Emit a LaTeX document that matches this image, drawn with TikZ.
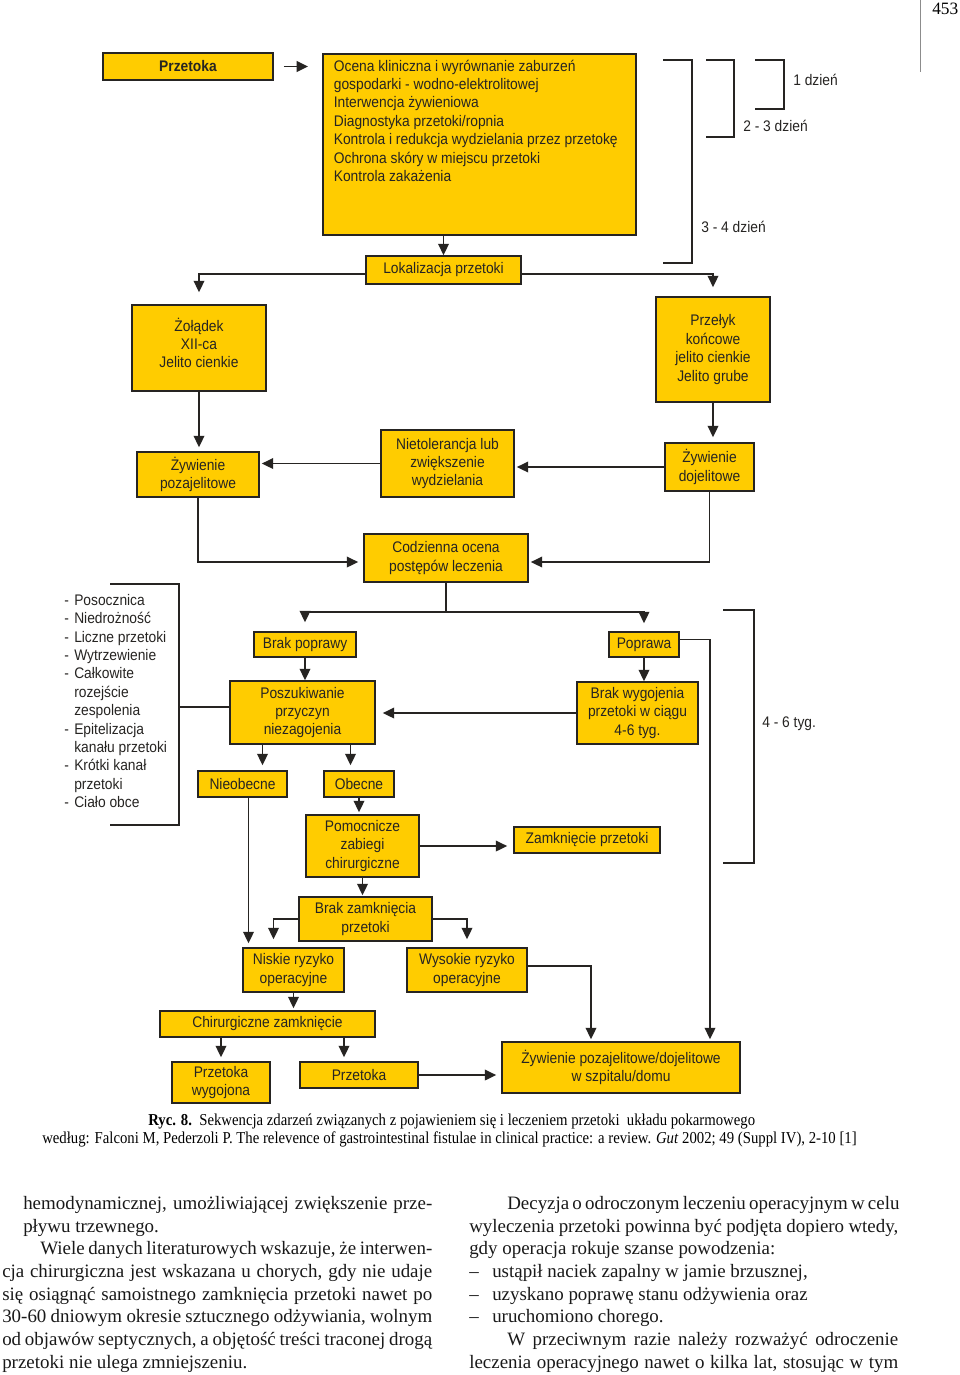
\documentclass[tikz,border=0pt]{standalone}
\usepackage{fontspec}
\setmainfont{Liberation Serif}
\setsansfont{Liberation Sans}[FakeStretch=0.9]
\newfontfamily\capfont{Liberation Serif}[FakeStretch=0.885]
\usetikzlibrary{positioning,arrows.meta}

\newdimen\pxu \pxu=0.75pt
\definecolor{boxfill}{RGB}{255,204,0}
\definecolor{ink}{RGB}{38,36,34}
\newcommand{\boxfont}{\sffamily\fontsize{11.5}{13.8}\selectfont}
\newcommand{\bodyfont}{\rmfamily\fontsize{14.2}{17}\selectfont}
\newcommand{\jline}[2]{\makebox[#1\pxu][s]{#2}}

\begin{document}
\begin{tikzpicture}[
    x=0.75pt, y=-0.75pt,
    box/.style={draw=ink, fill=boxfill, line width=1.3pt, inner sep=0pt, align=center, font=\boxfont, text=ink},
    sz/.style 2 args={minimum width=#1\pxu, minimum height=#2\pxu},
    arrow/.style={-{Triangle[length=8.5pt,width=8pt]}, line width=1.3pt, draw=ink},
    line/.style={line width=1.3pt, draw=ink},
    lbl/.style={font=\boxfont, text=ink, inner sep=0pt},
    bodytxt/.style={font=\bodyfont, inner sep=0pt, anchor=base west, text=black!90}
]
    \path[fill=white] (0,0) rectangle (960,1375);
    \useasboundingbox (0,0) rectangle (960,1375);

    % Page
    \draw[black!45, line width=0.7pt] (920,0) -- (920,72);
    \node[font=\rmfamily\fontsize{13}{15}\selectfont, inner sep=0pt, anchor=base west] (page) at (932,14) {453};

    % Boxes
    \node[box, sz={170}{27}] (przetoka) at (188,66.5) {\textbf{Przetoka}};
    \node[box, anchor=north west, inner xsep=11\pxu, inner ysep=6\pxu, align=left] (ocena) at (322,53)
        {\parbox[c][169\pxu][t]{291\pxu}{Ocena kliniczna i wyrównanie zaburzeń\\
        gospodarki - wodno-elektrolitowej\\
        Interwencja żywieniowa\\
        Diagnostyka przetoki/ropnia\\
        Kontrola i redukcja wydzielania przez przetokę\\
        Ochrona skóry w miejscu przetoki\\
        Kontrola zakażenia}};
    \node[box, sz={155}{28}] (lokal) at (443.5,270) {Lokalizacja przetoki};
    \node[box, sz={134}{86}] (zoladek) at (199,348) {Żołądek\\ XII-ca\\ Jelito cienkie\\[-8\pxu]};
    \node[box, sz={114}{105}] (przelyk) at (713,349.5) {Przełyk\\ końcowe\\ jelito cienkie\\ Jelito grube};
    \node[box, sz={122}{45}] (zywpoz) at (198,474.5) {Żywienie\\ pozajelitowe};
    \node[box, sz={133}{67}] (nietol) at (447.5,463.5) {Nietolerancja lub\\ zwiększenie\\ wydzielania};
    \node[box, sz={89}{48}] (zywdoj) at (709.5,467) {Żywienie\\ dojelitowe};
    \node[box, sz={164}{48}] (codz) at (446,558) {Codzienna ocena\\ postępów leczenia};
    \node[box, sz={102}{25}] (brakpop) at (305,644.5) {Brak poprawy};
    \node[box, sz={70}{25}] (poprawa) at (644,644.5) {Poprawa};
    \node[box, sz={145}{63}] (poszuk) at (302.5,712.5) {Poszukiwanie\\ przyczyn\\ niezagojenia};
    \node[box, sz={121}{62}] (brakwyg) at (637.5,713) {Brak wygojenia\\ przetoki w ciągu\\ 4-6 tyg.};
    \node[box, sz={89}{26}] (nieob) at (242.5,784) {Nieobecne};
    \node[box, sz={70}{26}] (obecne) at (359,784) {Obecne};
    \node[box, sz={113}{62}] (pomoc) at (362.5,846) {Pomocnicze\\ zabiegi\\ chirurgiczne};
    \node[box, sz={146}{26}] (zamk) at (587,840) {Zamknięcie przetoki};
    \node[box, sz={133}{44}] (brakzam) at (365.5,919) {Brak zamknięcia\\ przetoki};
    \node[box, sz={101}{44}] (niskie) at (293.5,970) {Niskie ryzyko\\ operacyjne};
    \node[box, sz={120}{44}] (wysokie) at (467,970) {Wysokie ryzyko\\ operacyjne};
    \node[box, sz={215}{26}] (chir) at (267.5,1024) {Chirurgiczne zamknięcie};
    \node[box, sz={98}{41}] (wygoj) at (221,1082.5) {Przetoka\\ wygojona};
    \node[box, sz={118}{26}] (przet2) at (359,1075) {Przetoka};
    \node[box, sz={238}{51}] (zywdom) at (621,1067.5) {Żywienie pozajelitowe/dojelitowe\\ w szpitalu/domu};

    % List
    \node[lbl, anchor=north west, align=left] (lista) at (64,594)
        {\makebox[10\pxu][l]{-}Posocznica\\
        \makebox[10\pxu][l]{-}Niedrożność\\
        \makebox[10\pxu][l]{-}Liczne przetoki\\
        \makebox[10\pxu][l]{-}Wytrzewienie\\
        \makebox[10\pxu][l]{-}Całkowite\\
        \hspace*{10\pxu}rozejście\\
        \hspace*{10\pxu}zespolenia\\
        \makebox[10\pxu][l]{-}Epitelizacja\\
        \hspace*{10\pxu}kanału przetoki\\
        \makebox[10\pxu][l]{-}Krótki kanał\\
        \hspace*{10\pxu}przetoki\\
        \makebox[10\pxu][l]{-}Ciało obce};

    % Brackets
    \draw[line] (663,60) -- (692,60) -- (692,263) -- (663,263);
    \draw[line] (706,60) -- (734,60) -- (734,137) -- (706,137);
    \draw[line] (755,60) -- (784,60) -- (784,109) -- (755,109);
    \draw[line] (723,610) -- (754,610) -- (754,863) -- (723,863);
    \draw[line] (110,584) -- (179,584) -- (179,825) -- (110,825);
    \node[lbl, anchor=west] (d1) at (793,80) {1 dzień};
    \node[lbl, anchor=west] (d23) at (743,126) {2 - 3 dzień};
    \node[lbl, anchor=west] (d34) at (701,227) {3 - 4 dzień};
    \node[lbl, anchor=west] (t46) at (762,724) {4 - 6 tyg.};
    \coordinate (lbr) at (179,707);
    \coordinate (split) at (446,612);

    % Arrows
    \draw[arrow, shorten <=10\pxu, shorten >=14\pxu] (przetoka.east) -- (przetoka.east -| ocena.west);
    \draw[arrow] (lokal.north |- ocena.south) -- (lokal.north);
    \draw[arrow, shorten >=12\pxu] ([yshift=-4\pxu]lokal.west) -| (zoladek.north);
    \draw[arrow, shorten >=9\pxu] ([yshift=-4\pxu]lokal.east) -| (przelyk.north);
    \draw[arrow, shorten >=4\pxu] (zoladek.south) -- (zoladek.south |- zywpoz.north);
    \draw[arrow, shorten >=5\pxu] (przelyk.south) -- (przelyk.south |- zywdoj.north);
    \draw[arrow, shorten >=2\pxu] (zywdoj.west) -- (zywdoj.west -| nietol.east);
    \draw[arrow, shorten >=2\pxu] (nietol.west) -- (nietol.west -| zywpoz.east);
    \draw[arrow, shorten >=5\pxu] (zywpoz.south) |- ([yshift=-4\pxu]codz.west);
    \draw[arrow, shorten >=2\pxu] (zywdoj.south) |- ([yshift=-4\pxu]codz.east);
    \draw[line] (codz.south) -- (split);
    \draw[arrow, shorten >=9\pxu] (split) -| (brakpop.north);
    \draw[arrow, shorten >=8\pxu] (split) -| (poprawa.north);
    \draw[arrow] (brakpop.south) -- (brakpop.south |- poszuk.north);
    \draw[arrow] (poprawa.south) -- (poprawa.south |- brakwyg.north);
    \draw[arrow, shorten >=7\pxu] (brakwyg.west) -- (brakwyg.west -| poszuk.east);
    \draw[line] (lbr) -- (lbr -| poszuk.west);
    \draw[arrow, shorten >=5\pxu] ([xshift=-40\pxu]poszuk.south) -- ([xshift=-40\pxu]poszuk.south |- nieob.north);
    \draw[arrow, shorten >=5\pxu] ([xshift=48\pxu]poszuk.south) -- ([xshift=48\pxu]poszuk.south |- obecne.north);
    \draw[arrow, shorten >=2\pxu] (obecne.south) -- (obecne.south |- pomoc.north);
    \draw[arrow, shorten >=6\pxu] (pomoc.east) -- (pomoc.east -| zamk.west);
    \draw[arrow, shorten >=1\pxu] (pomoc.south) -- (pomoc.south |- brakzam.north);
    \draw[arrow, shorten >=4\pxu] ([xshift=6\pxu]nieob.south) -- ([xshift=6\pxu]nieob.south |- niskie.north);
    \draw[arrow, shorten >=8\pxu] (brakzam.west) -| ([xshift=-20\pxu]niskie.north);
    \draw[arrow, shorten >=8\pxu] (brakzam.east) -| (wysokie.north);
    \draw[arrow, shorten >=2\pxu] (niskie.south) -- (niskie.south |- chir.north);
    \draw[arrow, shorten >=4\pxu] (wygoj.north |- chir.south) -- (wygoj.north);
    \draw[arrow, shorten >=4\pxu] ([xshift=-15\pxu]przet2.north |- chir.south) -- ([xshift=-15\pxu]przet2.north);
    \draw[arrow, shorten >=5\pxu] (przet2.east) -- (przet2.east -| zywdom.west);
    \draw[arrow, shorten >=2\pxu] ([yshift=4\pxu]wysokie.east) -| ([xshift=-30\pxu]zywdom.north);
    \draw[arrow, shorten >=2\pxu] ([yshift=5\pxu]poprawa.east) -| ([xshift=89\pxu]zywdom.north);

    % Caption
    \node[font=\capfont\fontsize{12.5}{14}\selectfont, inner sep=0pt, anchor=base west] (cap1) at (148,1125)
        {\textbf{Ryc. 8.}\ \ Sekwencja zdarzeń związanych z pojawieniem się i leczeniem przetoki\ \ układu pokarmowego};
    \node[font=\capfont\fontsize{12.5}{14}\selectfont, inner sep=0pt, anchor=base west] (cap2) at (42,1143)
        {według: Falconi M, Pederzoli P. The relevence of gastrointestinal fistulae in clinical practice: a review. \textit{Gut} 2002; 49 (Suppl IV), 2-10 [1]};

    % Text columns
    \node[bodytxt] (b1) at (23,1209) {\jline{409}{hemodynamicznej, umożliwiającej zwiększenie prze-}};
    \node[bodytxt] (b2) at (23,1232) {pływu trzewnego.};
    \node[bodytxt] (b3) at (40,1254) {\jline{392}{Wiele danych literaturowych wskazuje, że interwen-}};
    \node[bodytxt] (b4) at (2,1277) {\jline{430}{cja chirurgiczna jest wskazana u chorych, gdy nie udaje}};
    \node[bodytxt] (b5) at (2,1300) {\jline{430}{się osiągnąć samoistnego zamknięcia przetoki nawet po}};
    \node[bodytxt] (b6) at (2,1322) {\jline{430}{30-60 dniowym okresie sztucznego odżywiania, wolnym}};
    \node[bodytxt] (b7) at (2,1345) {\jline{430}{od objawów septycznych, a objętość treści traconej drogą}};
    \node[bodytxt] (b8) at (2,1368) {przetoki nie ulega zmniejszeniu.};

    \node[bodytxt] (r1) at (507,1209) {\jline{391}{Decyzja o odroczonym leczeniu operacyjnym w celu}};
    \node[bodytxt] (r2) at (469,1232) {\jline{429}{wyleczenia przetoki powinna być podjęta dopiero wtedy,}};
    \node[bodytxt] (r3) at (469,1254) {gdy operacja rokuje szanse powodzenia:};
    \node[bodytxt] (r4) at (469,1277) {\makebox[23\pxu][l]{–}ustąpił naciek zapalny w jamie brzusznej,};
    \node[bodytxt] (r5) at (469,1300) {\makebox[23\pxu][l]{–}uzyskano poprawę stanu odżywienia oraz};
    \node[bodytxt] (r6) at (469,1322) {\makebox[23\pxu][l]{–}uruchomiono chorego.};
    \node[bodytxt] (r7) at (507,1345) {\jline{391}{W przeciwnym razie należy rozważyć odroczenie}};
    \node[bodytxt] (r8) at (469,1368) {\jline{429}{leczenia operacyjnego nawet o kilka lat, stosując w tym}};
\end{tikzpicture}
\end{document}
